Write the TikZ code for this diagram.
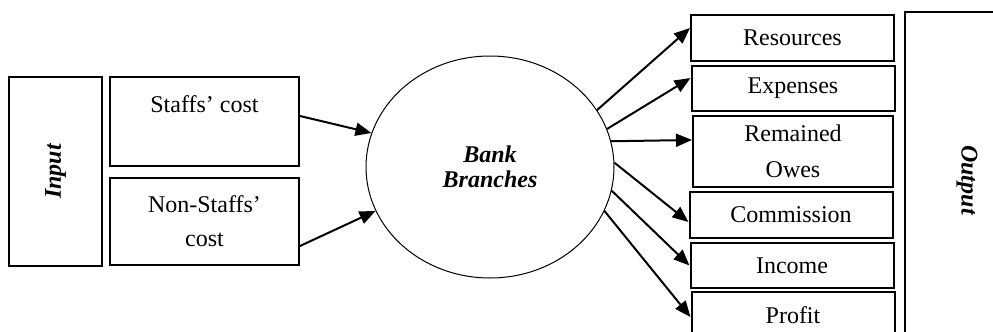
\documentclass[tikz,border=0pt]{standalone}
\usepackage{amsmath}
\usepackage{fontspec}
\setmainfont{Liberation Serif}
\usetikzlibrary{arrows.meta}
\usetikzlibrary{shapes.geometric}

\begin{document}
\begin{tikzpicture}[x=0.5pt,y=-0.5pt,
    font=\fontsize{12}{14}\selectfont,
    box/.style={draw, line width=1pt, inner sep=0pt, align=center},
    side/.style={box, font=\fontsize{12}{14}\selectfont\bfseries\itshape},
    outbox/.style={box, minimum width=101.5pt, minimum height=22.75pt},
    flow/.style={line width=1pt, -{Triangle[length=8pt,width=6.5pt]}}]
    \useasboundingbox (0,0) rectangle (993,332);

    % inputs
    \node[side, rotate=90, minimum width=94.5pt, minimum height=46.5pt] (inp) at (55.5,171.5) {Input};
    \node[box, minimum width=94.5pt, minimum height=44.5pt] (staff) at (204.5,121.5) {Staffs’ cost\\[3pt]\mbox{}};
    \node[box, minimum width=94.5pt, minimum height=43.5pt] (nonstaff) at (204.5,221.5) {Non-Staffs’\\[3pt]cost};

    % the branch
    \node[ellipse, draw, line width=0.5pt, inner sep=0pt, minimum width=124pt, minimum height=111pt,
      align=center, font=\fontsize{12}{14}\selectfont\bfseries\itshape] (bank) at (490,167) {Bank\\[-1.5pt]Branches};

    % outputs
    \node[outbox] (res) at (792.5,38) {Resources};
    \node[outbox] (exp) at (793,88.5) {Expenses};
    \node[outbox, minimum width=100pt, minimum height=35.5pt] (rem) at (793,151.5) {Remained\\[4pt]Owes};
    \node[outbox] (com) at (791,215) {Commission};
    \node[outbox] (inc) at (792,265.5) {Income};
    \node[outbox] (pro) at (793,315) {Profit};
    \node[side, rotate=-90, minimum width=168pt, minimum height=62pt] (out) at (967,180) {Output};

    \draw[flow] ([yshift=2.75pt]staff.east) -- (bank.164.8);
    \draw[flow] ([yshift=-12.25pt]nonstaff.east) -- (bank.201.8);

    \draw[flow] (bank.28.6) -- ([yshift=5pt]res.west);
    \draw[flow] (bank.18.7) -- ([yshift=5.25pt]exp.west);
    \draw[flow] (bank.12.2) -- ([yshift=5.75pt]rem.west);
    \draw[flow] (bank.2) -- ([yshift=-3.5pt]com.west);
    \draw[flow] (bank.-11.3) -- (inc.west);
    \draw[flow] (bank.-21) -- ([yshift=-1pt]pro.west);
\end{tikzpicture}
\end{document}
